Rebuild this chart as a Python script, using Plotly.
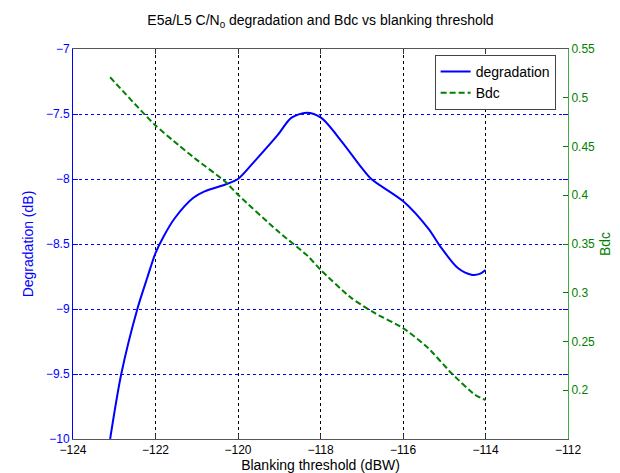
import plotly.graph_objects as go

# Degradation (dB) vs blanking threshold (dBW)
deg_x = [-123.1, -122.83, -122.44, -122.2, -122.0, -121.8, -121.53, -121.09, -120.81, -120.32, -120.0,
         -119.6, -119.03, -118.71, -118.34, -117.98, -117.49, -117.0, -116.77, -116.0, -115.39,
         -115.07, -114.67, -114.34, -114.14, -114.0]
deg_y = [-10.0, -9.5, -9.0, -8.76, -8.57, -8.44, -8.30, -8.146, -8.095, -8.044, -8.0,
         -7.864, -7.659, -7.53, -7.49, -7.53, -7.71, -7.915, -8.0, -8.17, -8.38,
         -8.53, -8.685, -8.736, -8.73, -8.70]

# Bdc vs blanking threshold
bdc_x = [-123.1, -122.02, -121.45, -121.05, -120.32, -120.0, -119.03, -118.3, -118.0,
         -117.25, -116.68, -116.0, -115.39, -114.83, -114.26, -114.0]
bdc_y = [0.521, 0.4724, 0.4518, 0.438, 0.4143, 0.4006, 0.363, 0.3374, 0.3236,
         0.2945, 0.279, 0.2638, 0.2433, 0.2177, 0.1955, 0.19]

x_ticks = [-124, -122, -120, -118, -116, -114, -112]
y1_ticks = [-10, -9.5, -9, -8.5, -8, -7.5, -7]
y2_ticks = [0.2, 0.25, 0.3, 0.35, 0.4, 0.45, 0.5, 0.55]

BLUE = "#0000ff"
GREEN = "#008000"
FONT = "Liberation Sans, Arial, sans-serif"

fig = go.Figure()
fig.add_trace(go.Scatter(x=deg_x, y=deg_y, mode="lines", name="degradation",
                         line=dict(color=BLUE, width=2, shape="spline", smoothing=0.8), yaxis="y"))
fig.add_trace(go.Scatter(x=bdc_x, y=bdc_y, mode="lines", name="Bdc",
                         line=dict(color=GREEN, width=2, dash="6px,3px", shape="spline", smoothing=0.6),
                         yaxis="y2"))

fig.update_layout(
    width=620, height=473,
    margin=dict(l=65, r=60, t=41, b=42),
    paper_bgcolor="white", plot_bgcolor="white",
    font=dict(family=FONT, size=12, color="black"),
    title=dict(text="E5a/L5 C/N<sub>0</sub> degradation and Bdc vs blanking threshold",
               x=0.504, xanchor="center", y=0.974, yanchor="middle",
               font=dict(size=14, color="black")),
    xaxis=dict(range=[-124, -112], tickvals=x_ticks, ticks="inside", ticklen=5,
               tickcolor="#333", showline=True, linecolor="#555", linewidth=1, mirror="ticks",
               showgrid=True, gridcolor="black", griddash="3px,3px", gridwidth=1,
               zeroline=False, automargin=False,
               title=dict(text="Blanking threshold (dBW)", standoff=0, font=dict(size=14))),
    yaxis=dict(range=[-10, -7], tickvals=y1_ticks, ticks="inside", ticklen=5,
               tickcolor=BLUE, showline=True, linecolor=BLUE, linewidth=1, mirror="ticks",
               showgrid=True, gridcolor=BLUE, griddash="3px,3px", gridwidth=1,
               zeroline=False, tickfont=dict(color=BLUE), automargin=False,
               title=dict(text="Degradation (dB)", font=dict(color=BLUE, size=14), standoff=8)),
    yaxis2=dict(range=[0.15, 0.55], tickvals=y2_ticks, overlaying="y", side="right",
                ticks="inside", ticklen=5, tickcolor=GREEN, showline=True,
                linecolor="#44aa44", linewidth=1, showgrid=False, zeroline=False,
                tickfont=dict(color=GREEN), automargin=False,
                title=dict(text="Bdc", font=dict(color=GREEN, size=14), standoff=6)),
    legend=dict(x=0.975, y=0.985, xanchor="right", yanchor="top",
                bgcolor="white", bordercolor="#444", borderwidth=1,
                font=dict(size=14), tracegroupgap=0, itemwidth=30),
    showlegend=True,
)

fig.write_html("out.html")
